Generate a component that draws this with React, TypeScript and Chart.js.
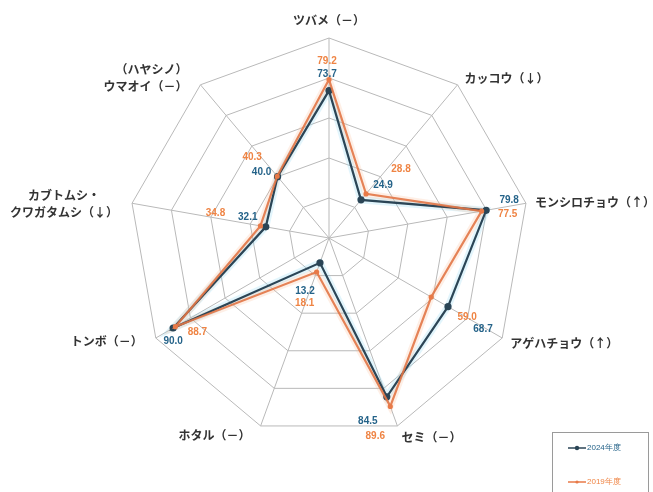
import React, { useEffect, useRef } from "react";
import { Chart, registerables } from "chart.js";

Chart.register(...registerables);

// ---- data ----
const categories: string[][] = [
  ["ツバメ（－）"],
  ["カッコウ（↓）"],
  ["モンシロチョウ（↑）"],
  ["アゲハチョウ（↑）"],
  ["セミ（－）"],
  ["ホタル（－）"],
  ["トンボ（－）"],
  ["カブトムシ・", "クワガタムシ（↓）"],
  ["（ハヤシノ）", "ウマオイ（－）"],
];
const series2024 = [73.7, 24.9, 79.8, 68.7, 84.5, 13.2, 90.0, 32.1, 40.0];
const series2019 = [79.2, 28.8, 77.5, 59.0, 89.6, 18.1, 88.7, 34.8, 40.3];
const seriesNames = ["2024年度", "2019年度"];
const scaleMin = 0;
const scaleMax = 100;
const scaleStep = 20;

// ---- layout / style ----
const W = 653;
const H = 492;
const COLOR_2024 = "#2b4556";
const COLOR_2019 = "rgba(226,118,70,0.9)";
const LABEL_2024 = "#256389";
const LABEL_2019 = "#ef8444";
const HALO_2024 = "rgba(140,215,245,0.25)";
const HALO_2019 = "rgba(250,180,140,0.22)";
const GRID = "#b9b9b9";
const AXIS_FONT = "bold 12px 'Noto Sans CJK JP', sans-serif";
const VALUE_FONT = "bold 10px 'Liberation Sans', Arial, sans-serif";

// axis label placement relative to outer vertex: [dx, dy, align]
const axisLabelPlace: [number, number, CanvasTextAlign][] = [
  [0, -18, "center"],
  [7, -6, "left"],
  [9, -1, "left"],
  [8, 5, "left"],
  [4, 11, "left"],
  [-10, 9, "right"],
  [-13, 3, "right"],
  [-68, -8, "center"],
  [-13, -15, "right"],
];
// value label offsets relative to the data point
const valueOffsets2024: [number, number][] = [
  [-2, -16], [22, -15], [23, -10], [35, 23], [-19, 24],
  [-15, 28], [0, 13], [-18, -10], [-16, -4],
];
const valueOffsets2019: [number, number][] = [
  [-2, -18], [35, -25], [26, 3], [36, 20], [-15, 30],
  [-12, 31], [22, 6], [-45, -13], [-25, -19],
];

const overlayPlugin = {
  id: "overlay",
  afterDatasetsDraw(chart: any) {
    const ctx: CanvasRenderingContext2D = chart.ctx;
    const scale = chart.scales.r;
    ctx.save();
    // axis labels
    ctx.font = AXIS_FONT;
    ctx.fillStyle = "#333333";
    ctx.textBaseline = "middle";
    categories.forEach((lines, i) => {
      const p = scale.getPointPosition(i, scale.drawingArea);
      const [dx, dy, align] = axisLabelPlace[i];
      ctx.textAlign = align;
      lines.forEach((t, k) => {
        ctx.fillText(t, p.x + dx, p.y + dy + k * 17);
      });
    });
    // value labels
    ctx.font = VALUE_FONT;
    ctx.textAlign = "center";
    const drawVals = (vals: number[], offs: [number, number][], color: string) => {
      ctx.fillStyle = color;
      vals.forEach((v, i) => {
        const p = scale.getPointPosition(i, scale.getDistanceFromCenterForValue(v));
        ctx.fillText(v.toFixed(1), p.x + offs[i][0], p.y + offs[i][1]);
      });
    };
    drawVals(series2019, valueOffsets2019, LABEL_2019);
    drawVals(series2024, valueOffsets2024, LABEL_2024);

    // legend
    const lx = 552, ly = 432;
    ctx.strokeStyle = "#9a9a9a";
    ctx.lineWidth = 1;
    ctx.strokeRect(lx + 0.5, ly + 0.5, 96, 80);
    const entries = [
      { name: seriesNames[0], color: COLOR_2024, text: LABEL_2024, y: ly + 16, r: 2.2 },
      { name: seriesNames[1], color: "#e87a48", text: LABEL_2019, y: ly + 50, r: 1.6 },
    ];
    ctx.font = "8px 'Liberation Sans', Arial, sans-serif";
    ctx.textAlign = "left";
    entries.forEach((e) => {
      ctx.strokeStyle = e.color;
      ctx.lineWidth = 1.5;
      ctx.beginPath();
      ctx.moveTo(lx + 16, e.y);
      ctx.lineTo(lx + 34, e.y);
      ctx.stroke();
      ctx.fillStyle = e.color;
      ctx.beginPath();
      ctx.arc(lx + 25, e.y, e.r, 0, Math.PI * 2);
      ctx.fill();
      ctx.fillStyle = e.text;
      ctx.fillText(e.name, lx + 35, e.y);
    });
    ctx.restore();
  },
};

export default function App() {
  const ref = useRef<HTMLCanvasElement | null>(null);
  useEffect(() => {
    if (!ref.current) return;
    const chart = new Chart(ref.current, {
      type: "radar",
      data: {
        labels: categories.map((c) => c.join("")),
        datasets: [
          {
            label: "halo2024",
            data: series2024,
            borderColor: HALO_2024,
            borderWidth: 7,
            pointRadius: 0,
            fill: false,
            order: 4,
          },
          {
            label: "halo2019",
            data: series2019,
            borderColor: HALO_2019,
            borderWidth: 7,
            pointRadius: 0,
            fill: false,
            order: 3,
          },
          {
            label: seriesNames[0],
            data: series2024,
            borderColor: COLOR_2024,
            backgroundColor: COLOR_2024,
            pointBackgroundColor: COLOR_2024,
            pointBorderColor: COLOR_2024,
            borderWidth: 2.2,
            pointRadius: 2.5,
            fill: false,
            order: 2,
          },
          {
            label: seriesNames[1],
            data: series2019,
            borderColor: COLOR_2019,
            backgroundColor: COLOR_2019,
            pointBackgroundColor: "#e87a48",
            pointBorderColor: "#e87a48",
            borderWidth: 2.2,
            pointRadius: 1.5,
            fill: false,
            order: 1,
          },
        ],
      },
      options: {
        responsive: false,
        animation: false,
        layout: { padding: { left: 129, right: 124, top: 38, bottom: 54 } },
        plugins: { legend: { display: false }, tooltip: { enabled: false } },
        elements: { line: { tension: 0 } },
        scales: {
          r: {
            min: scaleMin,
            max: scaleMax,
            ticks: { display: false, stepSize: scaleStep },
            pointLabels: { display: false },
            grid: { color: GRID, lineWidth: 1 },
            angleLines: { color: GRID, lineWidth: 1 },
          },
        },
      },
      plugins: [overlayPlugin],
    });
    return () => chart.destroy();
  }, []);
  return (
    <div style={{ position: "absolute", left: 0, top: 0, width: W, height: H, background: "#fff" }}>
      <canvas ref={ref} width={W} height={H} style={{ width: W, height: H, display: "block" }} />
    </div>
  );
}
